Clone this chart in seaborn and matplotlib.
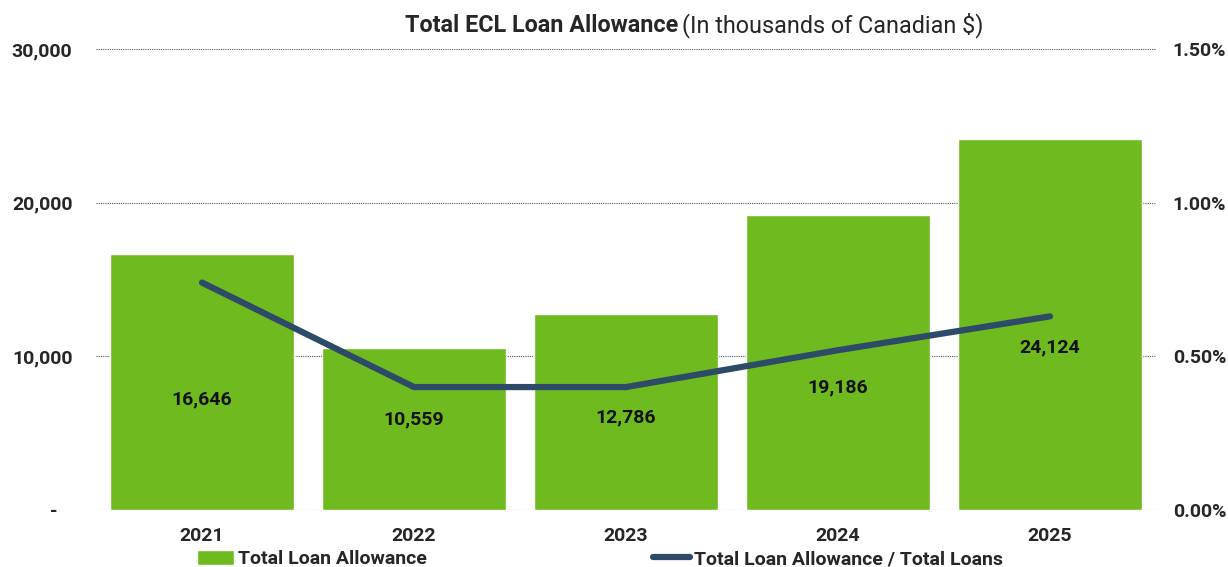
import matplotlib
matplotlib.use("Agg")
import matplotlib.pyplot as plt
import seaborn as sns
import pandas as pd
from matplotlib.ticker import FuncFormatter

years = ["2021", "2022", "2023", "2024", "2025"]
allowance = [16646, 10559, 12786, 19186, 24124]
ratio_pct = [0.74, 0.40, 0.40, 0.52, 0.63]
label_heights = [7200, 5900, 6050, 7950, 10550]

bar_color = "#6EBA1F"
line_color = "#2D4B68"

sns.set_theme(style="white")
plt.rcParams["font.family"] = ["Roboto", "DejaVu Sans"]

df = pd.DataFrame({"year": years, "allowance": allowance, "ratio": ratio_pct})

fig = plt.figure(figsize=(12.28, 5.67), dpi=100)
ax = fig.add_axes([96 / 1228, 1 - 510 / 567, (1156 - 96) / 1228, (510 - 49) / 567])

ax.set_axisbelow(True)
sns.barplot(data=df, x="year", y="allowance", color=bar_color, width=0.868,
            saturation=1, ax=ax, zorder=2, label="Total Loan Allowance")
ax.set_ylim(0, 30000)
ax.set_xlim(-0.5, 4.5)
ax.set_yticks([0, 10000, 20000, 30000])
ax.yaxis.set_major_formatter(FuncFormatter(lambda v, p: "-   " if v == 0 else f"{v:,.0f}"))
ax.grid(axis="y", linestyle=(0, (1, 1)), color="#555555", linewidth=0.8)
ax.grid(axis="x", visible=False)
for s in ax.spines.values():
    s.set_visible(False)
ax.set_xlabel("")
ax.set_ylabel("")
ax.tick_params(axis="y", length=0, pad=17, labelsize=14)
ax.tick_params(axis="x", length=0, pad=12, labelsize=14)
for t in ax.get_yticklabels() + ax.get_xticklabels():
    t.set_fontweight("bold")

for i, (v, h) in enumerate(zip(allowance, label_heights)):
    ax.text(i, h, f"{v:,}", ha="center", va="center", fontsize=14,
            fontweight="bold", color="#111111", zorder=5)

ax2 = ax.twinx()
sns.lineplot(data=df, x="year", y="ratio", color=line_color, linewidth=4.5,
             ax=ax2, solid_capstyle="round", label="Total Loan Allowance / Total Loans")
ax2.set_ylim(0, 1.5)
ax2.set_yticks([0, 0.5, 1.0, 1.5])
ax2.yaxis.set_major_formatter(FuncFormatter(lambda v, p: f"{v:.2f}%"))
ax2.tick_params(axis="y", length=0, pad=12, labelsize=14)
for t in ax2.get_yticklabels():
    t.set_fontweight("bold")
for s in ax2.spines.values():
    s.set_visible(False)
ax2.set_ylabel("")
ax2.set_xlabel("")
ax2.grid(False)

h1, l1 = ax.get_legend_handles_labels()
h2, l2 = ax2.get_legend_handles_labels()
for a in (ax, ax2):
    if a.get_legend():
        a.get_legend().remove()
fig.legend(h1 + h2, l1 + l2, loc="center", bbox_to_anchor=(600 / 1228, 1 - 559 / 567),
           ncol=2, frameon=False, prop={"weight": "bold", "size": 14},
           handlelength=1.9, handleheight=0.8, handletextpad=0.2, columnspacing=11.6,
           borderpad=0.1)

t1 = fig.text(405 / 1228, 1 - 25 / 567, "Total ECL Loan Allowance", ha="left", va="center",
              fontsize=16.8, fontweight="bold")
fig.canvas.draw()
bb = t1.get_window_extent()
fig.text((bb.x1 + 4) / 1228, 1 - 25 / 567, "(In thousands of Canadian $)", ha="left",
         va="center", fontsize=16.8)

fig.savefig("out.png", dpi=100)
